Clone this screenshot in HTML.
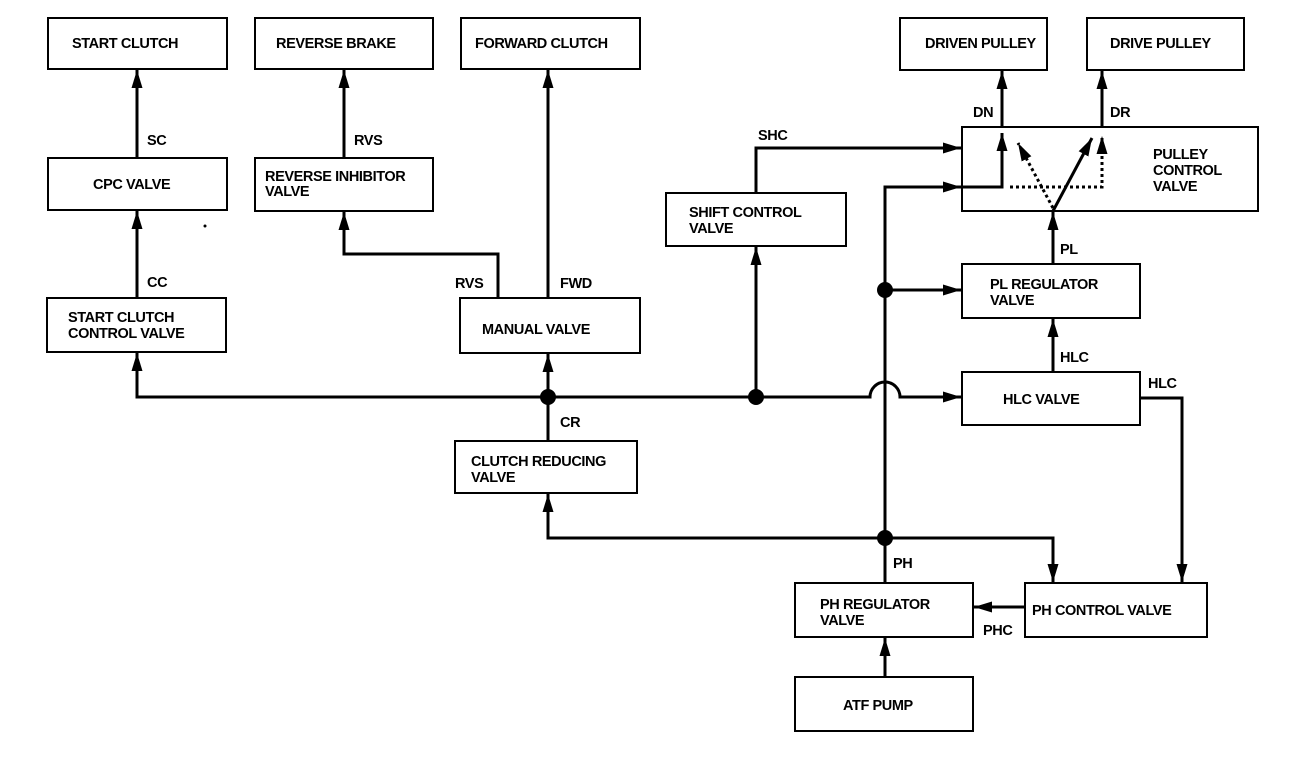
<!DOCTYPE html>
<html><head><meta charset="utf-8"><style>
body{margin:0;background:#fff}
svg text{font-family:"Liberation Sans",Arial,sans-serif;font-weight:bold;font-size:14.5px;fill:#000;letter-spacing:-0.4px}
</style></head><body>
<svg width="1312" height="754" viewBox="0 0 1312 754" xmlns="http://www.w3.org/2000/svg">
<defs>
<marker id="a" markerWidth="18" markerHeight="11" refX="18" refY="5.5" viewBox="0 0 18 11" orient="auto" markerUnits="userSpaceOnUse">
<path d="M0,0 L18,5.5 L0,11 z" fill="#000"/></marker>
</defs>
<g fill="none" stroke="#000" stroke-width="2">
<rect x="48" y="18" width="179" height="51"/>
<rect x="255" y="18" width="178" height="51"/>
<rect x="461" y="18" width="179" height="51"/>
<rect x="48" y="158" width="179" height="52"/>
<rect x="255" y="158" width="178" height="53"/>
<rect x="47" y="298" width="179" height="54"/>
<rect x="460" y="298" width="180" height="55"/>
<rect x="455" y="441" width="182" height="52"/>
<rect x="666" y="193" width="180" height="53"/>
<rect x="900" y="18" width="147" height="52"/>
<rect x="1087" y="18" width="157" height="52"/>
<rect x="962" y="127" width="296" height="84"/>
<rect x="962" y="264" width="178" height="54"/>
<rect x="962" y="372" width="178" height="53"/>
<rect x="795" y="583" width="178" height="54"/>
<rect x="1025" y="583" width="182" height="54"/>
<rect x="795" y="677" width="178" height="54"/>
</g>
<g fill="none" stroke="#000" stroke-width="3">
<path d="M137,158 V70" marker-end="url(#a)"/>
<path d="M137,298 V211" marker-end="url(#a)"/>
<path d="M344,158 V70" marker-end="url(#a)"/>
<path d="M498,298 V254 H344 V212" marker-end="url(#a)"/>
<path d="M548,298 V70" marker-end="url(#a)"/>
<path d="M548,397 H137 V353" marker-end="url(#a)"/>
<path d="M548,397 V354" marker-end="url(#a)"/>
<path d="M548,441 V397 H870 A15,15 0 0 1 900,397 H961" marker-end="url(#a)"/>
<path d="M756,397 V247" marker-end="url(#a)"/>
<path d="M756,193 V148 H961" marker-end="url(#a)"/>
<path d="M885,583 V187 H961" marker-end="url(#a)"/>
<path d="M962,187 H1002 V133" marker-end="url(#a)"/>
<path d="M885,290 H961" marker-end="url(#a)"/>
<path d="M885,538 H548 V494" marker-end="url(#a)"/>
<path d="M885,538 H1053 V582" marker-end="url(#a)"/>
<path d="M1053,372 V319" marker-end="url(#a)"/>
<path d="M1140,398 H1182 V582" marker-end="url(#a)"/>
<path d="M1053,264 V212" marker-end="url(#a)"/>
<path d="M1053,211 L1092,138" marker-end="url(#a)"/>
<path d="M1002,127 V71" marker-end="url(#a)"/>
<path d="M1102,127 V71" marker-end="url(#a)"/>
<path d="M1025,607 H974" marker-end="url(#a)"/>
<path d="M885,677 V638" marker-end="url(#a)"/>
</g>
<g fill="none" stroke="#000" stroke-width="3" stroke-dasharray="3,3">
<path d="M1053,208 L1018,143" marker-end="url(#a)"/>
<path d="M1010,187 H1102 V136" marker-end="url(#a)"/>
</g>
<g fill="#000">
<circle cx="548" cy="397" r="8"/><circle cx="756" cy="397" r="8"/>
<circle cx="885" cy="290" r="8"/><circle cx="885" cy="538" r="8"/>
<circle cx="205" cy="226" r="1.5"/>
</g>
<text x="72" y="48">START CLUTCH</text>
<text x="276" y="48">REVERSE BRAKE</text>
<text x="475" y="48">FORWARD CLUTCH</text>
<text x="93" y="189">CPC VALVE</text>
<text x="265" y="181">REVERSE INHIBITOR</text><text x="265" y="196">VALVE</text>
<text x="68" y="322">START CLUTCH</text><text x="68" y="338">CONTROL VALVE</text>
<text x="482" y="334">MANUAL VALVE</text>
<text x="471" y="466">CLUTCH REDUCING</text><text x="471" y="482">VALVE</text>
<text x="689" y="217">SHIFT CONTROL</text><text x="689" y="233">VALVE</text>
<text x="925" y="48">DRIVEN PULLEY</text>
<text x="1110" y="48">DRIVE PULLEY</text>
<text x="1153" y="159">PULLEY</text><text x="1153" y="175">CONTROL</text><text x="1153" y="191">VALVE</text>
<text x="990" y="289">PL REGULATOR</text><text x="990" y="305">VALVE</text>
<text x="1003" y="404">HLC VALVE</text>
<text x="820" y="609">PH REGULATOR</text><text x="820" y="625">VALVE</text>
<text x="1032" y="615">PH CONTROL VALVE</text>
<text x="843" y="710">ATF PUMP</text>
<text x="147" y="145">SC</text>
<text x="147" y="287">CC</text>
<text x="354" y="145">RVS</text>
<text x="455" y="288">RVS</text>
<text x="560" y="288">FWD</text>
<text x="560" y="427">CR</text>
<text x="758" y="140">SHC</text>
<text x="973" y="117">DN</text>
<text x="1110" y="117">DR</text>
<text x="1060" y="254">PL</text>
<text x="1060" y="362">HLC</text>
<text x="1148" y="388">HLC</text>
<text x="893" y="568">PH</text>
<text x="983" y="635">PHC</text>
</svg>
</body></html>
